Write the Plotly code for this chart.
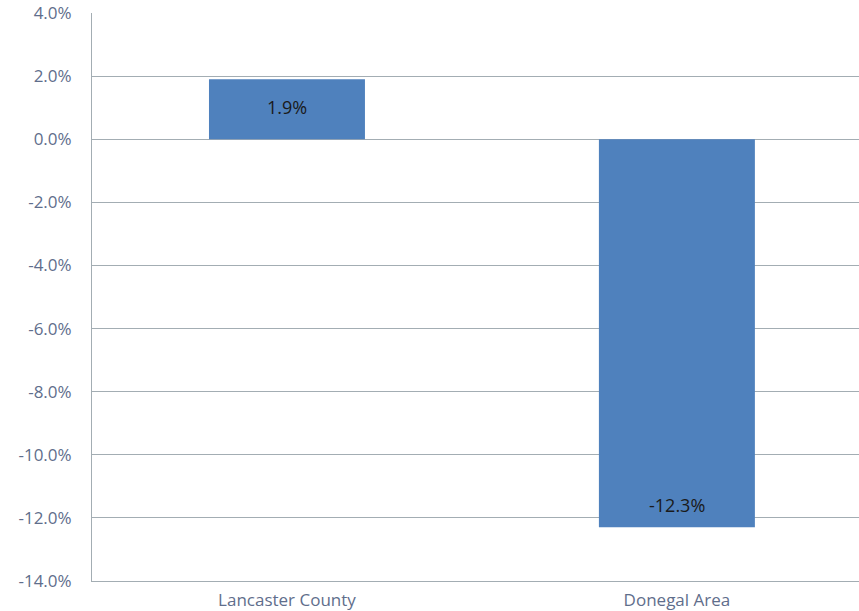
import plotly.graph_objects as go

areas = ["Lancaster County", "Donegal Area"]
change_pct = [1.9, -12.3]
y_ticks = [4, 2, 0, -2, -4, -6, -8, -10, -12, -14]
y_tick_labels = ["%.1f%%" % t for t in y_ticks]

BAR_COLOR = "#4f81bd"
AXIS_TEXT = "#5f6e8c"
GRID = "#a3adb3"
FONT = "Open Sans, Noto Sans, sans-serif"

fig = go.Figure(go.Bar(
    x=[0, 1], y=change_pct,
    width=0.4,
    marker=dict(color=BAR_COLOR, line=dict(width=0)),
    hovertext=areas,
))

# data labels sit inside the bar, near the outer end
for i, v in enumerate(change_pct):
    fig.add_annotation(
        x=i, y=v, text="%.1f%%" % v, showarrow=False,
        yshift=-28 if v > 0 else 22,
        font=dict(family=FONT, size=18, color="#1a1a1a"),
    )

fig.update_layout(
    width=859, height=611,
    margin=dict(l=92, r=0, t=13, b=30),
    paper_bgcolor="white", plot_bgcolor="white",
    showlegend=False,
    font=dict(family=FONT, size=16, color=AXIS_TEXT),
    xaxis=dict(
        range=[-0.5, 1.467],
        tickmode="array", tickvals=[0, 1], ticktext=areas,
        showgrid=False, zeroline=False,
        showline=True, linecolor=GRID, linewidth=1,
        ticks="", ticklabelstandoff=4, automargin=False,
        tickfont=dict(family=FONT, size=17, color=AXIS_TEXT),
    ),
    yaxis=dict(
        range=[-14, 4],
        tickmode="array", tickvals=y_ticks, ticktext=y_tick_labels,
        showgrid=True, gridcolor=GRID, gridwidth=1,
        zeroline=True, zerolinecolor=GRID, zerolinewidth=1,
        showline=True, linecolor=GRID, linewidth=1,
        ticks="", ticklabelstandoff=16, automargin=False,
        tickfont=dict(family=FONT, size=17, color=AXIS_TEXT),
    ),
)

# page body has a default 8px margin which shifts the chart
fig.write_html("out.html", config={"displayModeBar": False},
               post_script="document.body.style.margin='0';")
